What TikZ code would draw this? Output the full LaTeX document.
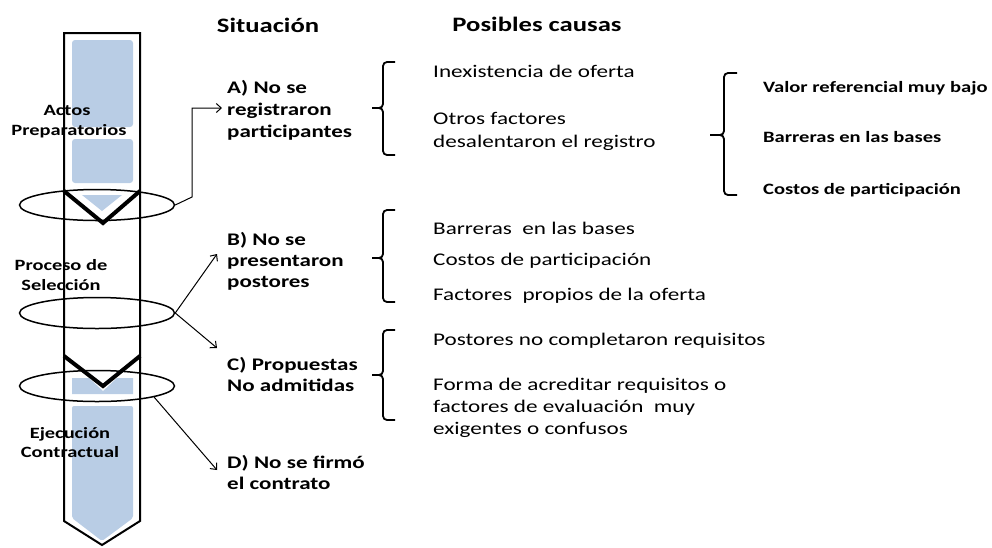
\documentclass[tikz,border=0pt]{standalone}
\usepackage{fontspec}
\setmainfont{Carlito}[FakeStretch=1.3]
\usetikzlibrary{arrows.meta,shapes.geometric}
\definecolor{pblue}{RGB}{185,205,229}
\tikzset{
  titletext/.style={font=\fontsize{20.5}{24}\selectfont\bfseries, inner sep=0, anchor=base},
  sittext/.style={font=\fontsize{17.7}{22}\selectfont\bfseries, anchor=base west, inner sep=0},
  causetext/.style={font=\fontsize{17.8}{22}\selectfont, anchor=base west, inner sep=0},
  smalltext/.style={font=\fontsize{15.8}{20}\selectfont\bfseries, anchor=base west, inner sep=0},
  labtext/.style={font=\fontsize{15.7}{20}\selectfont\bfseries, anchor=base, inner sep=0},
  bracepath/.style={line width=1.8, rounded corners=4},
  arr/.style={line width=1, -{Straight Barb[length=5pt,width=9pt]}},
  ringnode/.style={ellipse, draw, line width=1.5, minimum width=155, minimum height=31, inner sep=0},
}
\begin{document}
\begin{tikzpicture}[x=1pt,y=-1pt]
\useasboundingbox (0,0) rectangle (992,547);
% blue fills of the column
\fill[pblue, rounded corners=3] (72,40) rectangle (133,127);
\fill[pblue, rounded corners=3] (72,139) rectangle (133,183);
\fill[pblue] (82,195) -- (122,195) -- (102,211) -- cycle;
\fill[pblue] (72,378) -- (89,378) -- (103,391) -- (117,378) -- (133,378) -- (133,394) -- (72,394) -- cycle;
\fill[pblue, rounded corners=2] (72,406) -- (133,406) -- (133,518) -- (102,541) -- (72,518) -- cycle;
% column outline
\draw[line width=2, line join=miter] (64,521) -- (64,33) -- (140,33) -- (140,521) -- (102,545) -- cycle;
\draw[line width=4] (64,191) -- (103,223) -- (140,191);
\draw[line width=4] (64,356) -- (103,386) -- (140,356);
% rings
\node[ringnode] (e1) at (97,205) {};
\node[ringnode] (e2) at (97,313) {};
\node[ringnode] (e3) at (97,386) {};
% column labels
\node[labtext] (l1) at (67,115) {Actos};
\node[labtext] (l2) at (69,135) {Preparatorios};
\node[labtext] (l3) at (61,270) {Proceso de};
\node[labtext] (l4) at (61,290) {Selección};
\node[labtext] (l5) at (70,438) {Ejecución};
\node[labtext] (l6) at (70,457) {Contractual};
% titles
\node[titletext] (hSit) at (268,32) {Situación};
\node[titletext] (hCau) at (537,31) {Posibles causas};
% situations
\node[sittext] (sA1) at (227,93) {A) No se};
\node[sittext] (sA2) at (227,115) {registraron};
\node[sittext] (sA3) at (227,137) {participantes};
\node[sittext] (sB1) at (227,245) {B) No se};
\node[sittext] (sB2) at (227,266) {presentaron};
\node[sittext] (sB3) at (227,287) {postores};
\node[sittext] (sC1) at (227,370) {C) Propuestas};
\node[sittext] (sC2) at (227,391) {No admitidas};
\node[sittext] (sD1) at (227,468) {D) No se firmó};
\node[sittext] (sD2) at (227,489) {el contrato};
% causes
\node[causetext] (cA1) at (433,77) {Inexistencia de oferta};
\node[causetext] (cA2) at (433,124) {Otros factores};
\node[causetext] (cA3) at (433,147) {desalentaron el registro};
\node[smalltext] (r1) at (763,92) {Valor referencial muy bajo};
\node[smalltext] (r2) at (763,142) {Barreras en las bases};
\node[smalltext] (r3) at (763,194) {Costos de participación};
\node[causetext] (cB1) at (433,234) {Barreras\ \ en las bases};
\node[causetext] (cB2) at (433,265) {Costos de participación};
\node[causetext] (cB3) at (433,300) {Factores\ \ propios de la oferta};
\node[causetext] (cC1) at (433,345) {Postores no completaron requisitos};
\node[causetext] (cC2) at (433,390) {Forma de acreditar requisitos o};
\node[causetext] (cC3) at (433,412) {factores de evaluación\ \ muy};
\node[causetext] (cC4) at (433,434) {exigentes o confusos};
% braces
\draw[bracepath] (395,62) -- (383,62) -- (383,108) -- (372,108);
\draw[bracepath] (395,155) -- (383,155) -- (383,108) -- (372,108);
\draw[bracepath] (737,73) -- (724,73) -- (724,135) -- (710,135);
\draw[bracepath] (737,195) -- (724,195) -- (724,135) -- (710,135);
\draw[bracepath] (395,210) -- (383,210) -- (383,258) -- (372,258);
\draw[bracepath] (395,302) -- (383,302) -- (383,258) -- (372,258);
\draw[bracepath] (395,330) -- (383,330) -- (383,375) -- (372,375);
\draw[bracepath] (395,420) -- (383,420) -- (383,375) -- (372,375);
% connectors
\coordinate (a1) at (192,197);
\coordinate (tA) at (222,108);
\coordinate (tB) at (217,254);
\coordinate (tC) at (217,348);
\coordinate (tD) at (217,470);
\draw[arr] (e1.east) -- (a1) |- (tA);
\draw[arr] (e2.east) -- (tB);
\draw[arr] (e2.east) -- (tC);
\draw[arr] (e3.-11) -- (tD);
\end{tikzpicture}
\end{document}
